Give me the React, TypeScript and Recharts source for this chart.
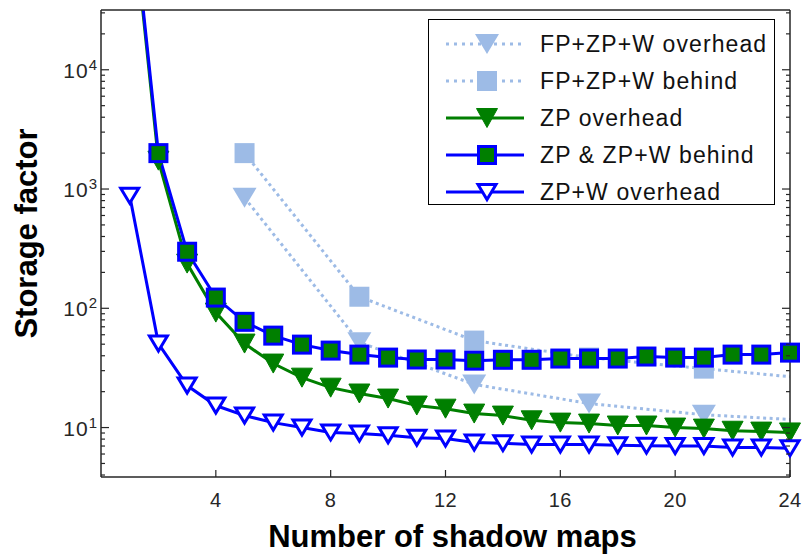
import React from "react";
import { LineChart, Line, XAxis, YAxis } from "recharts";

// values (log y axis)
const X_VALUES = [1, 2, 3, 4, 5, 6, 7, 8, 9, 10, 11, 12, 13, 14, 15, 16, 17, 18, 19, 20, 21, 22, 23, 24];
const ZPW_OVERHEAD = [880, 50.6, 22.5, 15.3, 12.6, 11.0, 10.0, 9.1, 8.9, 8.6, 8.2, 8.1, 7.5, 7.4, 7.2, 7.2, 7.2, 7.1, 7.05, 7.0, 7.0, 6.8, 6.8, 6.7];
const ZP_OVERHEAD = [350000, 1730, 237, 92, 50.6, 34.4, 26.2, 21.6, 19.3, 17.5, 15.3, 14.4, 13.1, 12.6, 11.5, 11.0, 10.8, 10.4, 10.4, 10.0, 9.8, 9.4, 9.25, 9.1];
const ZP_BEHIND = [380000, 2000, 298, 123, 77, 59, 49.6, 44.2, 40.9, 38.6, 37.2, 37.2, 36.4, 37.0, 37.0, 37.9, 37.9, 37.9, 39.4, 38.6, 38.6, 40.9, 40.9, 42.5];

const FP_X = [5, 9, 13, 17, 21, 24];
const FP_OVERHEAD = [845, 52, 23, 15.9, 12.8, 11.7];
const FP_BEHIND = [2000, 125, 53.6, 38.6, 31.2, 26.7];

const X_TICKS = [4, 8, 12, 16, 20, 24];
const Y_MAJOR = [10, 100, 1000, 10000];
const Y_TICKS = [
  4, 5, 6, 7, 8, 9, 10,
  20, 30, 40, 50, 60, 70, 80, 90, 100,
  200, 300, 400, 500, 600, 700, 800, 900, 1000,
  2000, 3000, 4000, 5000, 6000, 7000, 8000, 9000, 10000,
  20000, 30000,
];
const Y_DOMAIN = [3.85, 31700];

const BLUE = "#0000ff";
const GREEN = "#007f00";
const LIGHT = "#9dbbe6";
const AXIS = "#262626";
const FONT = '"Liberation Sans", Arial, sans-serif';

type Kind = "lightTri" | "lightSq" | "greenTri" | "blueSq" | "hollowTri";

const toRows = (xs: number[], vs: number[]) => xs.map((x, i) => ({ x, v: vs[i] }));
// markers are drawn on an unclipped axis, so only the points inside the plot
const inPlot = (rows: { x: number; v: number }[]) => rows.filter((r) => r.v <= Y_DOMAIN[1]);

const SERIES: { name: string; color: string; dotted: boolean; kind: Kind; sparse: boolean; rows: { x: number; v: number }[] }[] = [
  { name: "FP+ZP+W overhead", color: LIGHT, dotted: true, kind: "lightTri", sparse: true, rows: toRows(FP_X, FP_OVERHEAD) },
  { name: "FP+ZP+W behind", color: LIGHT, dotted: true, kind: "lightSq", sparse: true, rows: toRows(FP_X, FP_BEHIND) },
  { name: "ZP overhead", color: GREEN, dotted: false, kind: "greenTri", sparse: false, rows: toRows(X_VALUES, ZP_OVERHEAD) },
  { name: "ZP & ZP+W behind", color: BLUE, dotted: false, kind: "blueSq", sparse: false, rows: toRows(X_VALUES, ZP_BEHIND) },
  { name: "ZP+W overhead", color: BLUE, dotted: false, kind: "hollowTri", sparse: false, rows: toRows(X_VALUES, ZPW_OVERHEAD) },
];

const tri = (cx: number, cy: number, hw: number, hh: number) =>
  `${cx - hw},${cy - hh} ${cx + hw},${cy - hh} ${cx},${cy + hh}`;

function Marker({ kind, cx, cy }: { kind: Kind; cx: number; cy: number }) {
  switch (kind) {
    case "lightTri":
      return <polygon points={tri(cx, cy, 12, 10)} fill={LIGHT} />;
    case "lightSq":
      return <rect x={cx - 10} y={cy - 10} width={20} height={20} fill={LIGHT} />;
    case "greenTri":
      return <polygon points={tri(cx, cy, 10.5, 9.5)} fill={GREEN} stroke={GREEN} strokeWidth={1} />;
    case "blueSq":
      return <rect x={cx - 8.5} y={cy - 8.5} width={17} height={17} fill={GREEN} stroke={BLUE} strokeWidth={3} />;
    default:
      return <polygon points={tri(cx, cy, 9, 7.5)} fill="#fff" stroke={BLUE} strokeWidth={3} />;
  }
}

function dotFor(kind: Kind, sparse: boolean) {
  return (p: any) => {
    const key = `${kind}-${p.index}`;
    if (p.cx == null || p.cy == null) return <g key={key} />;
    if (sparse && (p.payload.x - 1) % 4 !== 0) return <g key={key} />;
    return (
      <g key={key}>
        <Marker kind={kind} cx={p.cx} cy={p.cy} />
      </g>
    );
  };
}

function LeftTick({ x, y, payload }: any) {
  const v = payload.value;
  const major = Y_MAJOR.includes(v);
  return (
    <g>
      <line x1={x} x2={x + (major ? 8 : 4)} y1={y} y2={y} stroke={AXIS} strokeWidth={1.2} />
      {major && (
        <text x={x - 4} y={y + 8} textAnchor="end" fill={AXIS} fontFamily={FONT}>
          <tspan fontSize={21} letterSpacing={1}>10</tspan>
          <tspan fontSize={15} dy={-8}>{Math.round(Math.log10(v))}</tspan>
        </text>
      )}
    </g>
  );
}

function RightTick({ x, y, payload }: any) {
  const major = Y_MAJOR.includes(payload.value);
  return <line x1={x} x2={x - (major ? 8 : 4)} y1={y} y2={y} stroke={AXIS} strokeWidth={1.2} />;
}

function BottomTick({ x, y, payload }: any) {
  return (
    <g>
      <line x1={x} x2={x} y1={y} y2={y - 7} stroke={AXIS} strokeWidth={1.2} />
      <text x={x} y={y + 30} textAnchor="middle" fontSize={20} letterSpacing={0.5} fill={AXIS} fontFamily={FONT}>
        {payload.value}
      </text>
    </g>
  );
}

function TopTick({ x, y }: any) {
  return <line x1={x} x2={x} y1={y} y2={y + 7} stroke={AXIS} strokeWidth={1.2} />;
}

export default function App() {
  return (
    <div style={{ position: "fixed", left: 0, top: 0, width: 804, height: 556, fontFamily: FONT, background: "#fff" }}>
      <LineChart width={804} height={556} margin={{ top: 0, right: 0, bottom: 0, left: 0 }}>
        <XAxis
          dataKey="x"
          type="number"
          domain={[0, 24]}
          ticks={X_TICKS}
          interval={0}
          height={79}
          tickSize={0}
          tickMargin={0}
          tickLine={false}
          tick={BottomTick}
          axisLine={{ stroke: AXIS, strokeWidth: 1.5 }}
          label={(p: any) => {
            const vb = p.viewBox || { x: 101, y: 477, width: 689, height: 79 };
            return (
              <text x={vb.x + vb.width / 2 + 7} y={vb.y + 70} textAnchor="middle" fontSize={31} fontWeight="bold" fill="#000" fontFamily={FONT}>
                Number of shadow maps
              </text>
            );
          }}
        />
        <XAxis
          xAxisId="top"
          orientation="top"
          dataKey="x"
          type="number"
          domain={[0, 24]}
          ticks={X_TICKS}
          interval={0}
          height={10}
          tickSize={0}
          tickMargin={0}
          tickLine={false}
          tick={TopTick}
          axisLine={{ stroke: AXIS, strokeWidth: 1.5 }}
        />
        <YAxis
          type="number"
          scale="log"
          domain={Y_DOMAIN}
          ticks={Y_TICKS}
          interval={0}
          width={101}
          tickSize={0}
          tickMargin={0}
          tickLine={false}
          tick={LeftTick}
          axisLine={{ stroke: AXIS, strokeWidth: 1.5 }}
          allowDataOverflow
          label={(p: any) => {
            const vb = p.viewBox || { x: 0, y: 10, width: 101, height: 467 };
            const cx = vb.x + 37;
            const cy = vb.y + vb.height / 2 - 10;
            return (
              <text x={cx} y={cy} transform={`rotate(-90 ${cx} ${cy})`} textAnchor="middle" fontSize={31} fontWeight="bold" fill="#000" fontFamily={FONT}>
                Storage factor
              </text>
            );
          }}
        />
        <YAxis
          yAxisId="right"
          orientation="right"
          type="number"
          scale="log"
          domain={Y_DOMAIN}
          ticks={Y_TICKS}
          interval={0}
          width={14}
          tickSize={0}
          tickMargin={0}
          tickLine={false}
          tick={RightTick}
          axisLine={{ stroke: AXIS, strokeWidth: 1.5 }}
          allowDataOverflow
        />
        <YAxis yAxisId="m" hide type="number" scale="log" domain={Y_DOMAIN} />

        {SERIES.flatMap((s) => [
          <Line key={s.name + "-line"} data={s.rows} dataKey="v" stroke={s.color} strokeWidth={3}
            strokeDasharray={s.dotted ? "3 3.5" : undefined}
            dot={false} activeDot={false} isAnimationActive={false} />,
          <Line key={s.name + "-marks"} yAxisId="m" data={inPlot(s.rows)} dataKey="v" stroke="none"
            dot={dotFor(s.kind, s.sparse)} activeDot={false} isAnimationActive={false} />,
        ])}
      </LineChart>

      {/* legend box */}
      <div style={{
        position: "absolute", left: 428, top: 19, width: 345, height: 184,
        border: "1.5px solid #000", background: "#fff",
      }}>
        {SERIES.map((s, i) => (
          <div key={s.name} style={{ position: "absolute", left: 0, top: 9 + i * 37, height: 30, width: 345 }}>
            <svg width={100} height={30} style={{ position: "absolute", left: 0, top: 0 }}>
              <line x1={17} x2={95} y1={15} y2={15} stroke={s.color} strokeWidth={3}
                strokeDasharray={s.dotted ? "3 5" : undefined} />
              <Marker kind={s.kind} cx={58} cy={15} />
            </svg>
            <span style={{
              position: "absolute", left: 111, top: 0, lineHeight: "30px",
              fontSize: 23, letterSpacing: 1.1, color: "#111", whiteSpace: "nowrap",
            }}>
              {s.name}
            </span>
          </div>
        ))}
      </div>
    </div>
  );
}
